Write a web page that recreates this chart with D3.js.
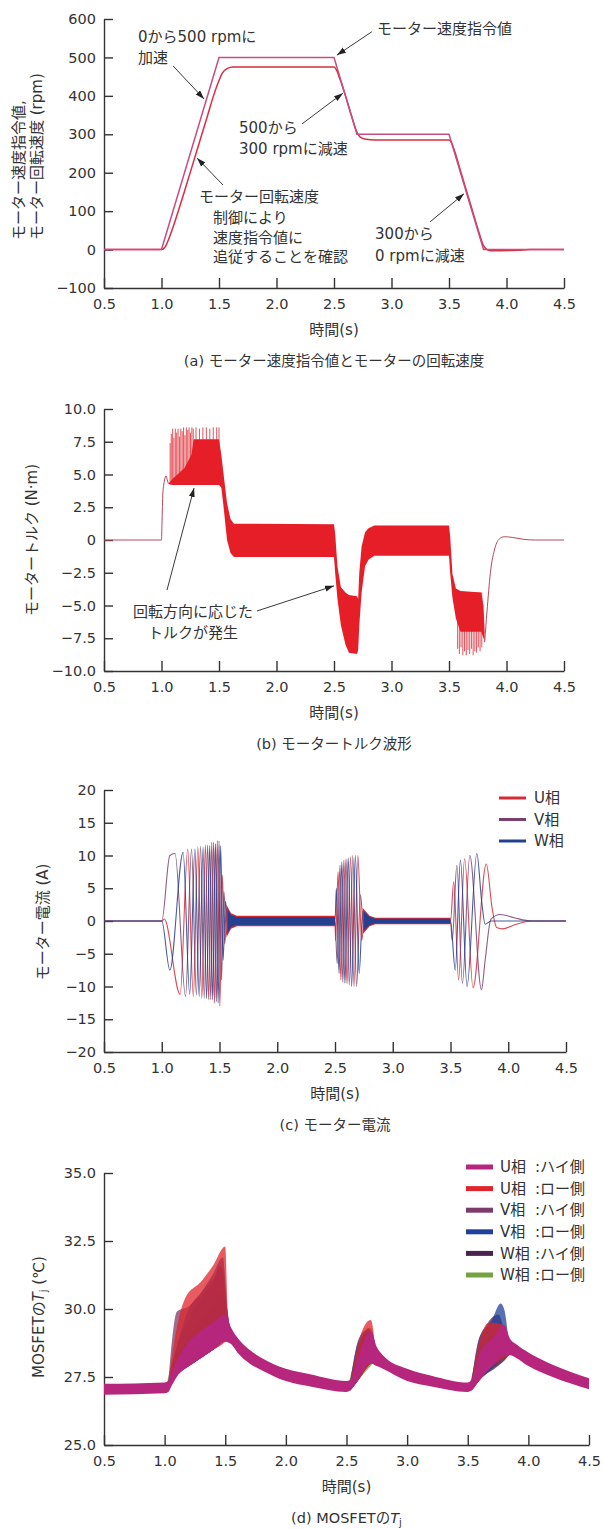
<!DOCTYPE html>
<html>
<head>
<meta charset="utf-8">
<script src="https://cdnjs.cloudflare.com/ajax/libs/d3/7.8.5/d3.min.js"></script>
<style>
  body { margin: 0; background: #fff; }
  text { font-family: "DejaVu Sans", "Noto Sans CJK JP", sans-serif; fill: #333; }
</style>
</head>
<body>
<svg id="chart" width="603" height="1529"></svg>
<script>
// ---------- data ----------
var timeTicks = [0.5, 1.0, 1.5, 2.0, 2.5, 3.0, 3.5, 4.0, 4.5];
var speedTicks = [-100, 0, 100, 200, 300, 400, 500, 600];
var torqueTicks = [-10, -7.5, -5, -2.5, 0, 2.5, 5, 7.5, 10];
var currentTicks = [-20, -15, -10, -5, 0, 5, 10, 15, 20];
var tempTicks = [25, 27.5, 30, 32.5, 35];

// (a) speed command / motor speed [s, rpm]
var speedCmd = [[0.5,0],[1.0,0],[1.5,500],[2.5,500],[2.7,300],[3.5,300],[3.8,0],[4.5,0]];
var speedMotor = [[0.5,0],[1.0,0],[1.03,6],[1.06,25],[1.1,58],[1.2,152],[1.3,250],[1.4,348],[1.45,398],
  [1.5,440],[1.53,460],[1.57,471],[1.62,475],[2.5,475],[2.52,468],[2.55,445],[2.6,400],[2.65,350],
  [2.7,305],[2.73,292],[2.78,287],[2.85,285],[3.5,285],[3.52,279],[3.55,255],[3.6,205],[3.65,155],
  [3.7,105],[3.75,55],[3.8,10],[3.83,0],[3.87,-3],[4.1,-2],[4.2,0],[4.5,0]];

// (b) torque [s, N·m]: smooth parts, dense ripple envelope [s, low, high], single spikes [s, tip]
var torqueStart = [[0.5,0],[1.0,0],[1.004,1.2],[1.012,3.6],[1.025,4.5],[1.04,4.9],[1.05,4.6],[1.06,4.3]];
var torqueEnd = [[3.81,-7.8],[3.83,-5.5],[3.86,-2.5],[3.9,-0.6],[3.94,0.1],[3.98,0.25],[4.05,0.2],
  [4.15,0.05],[4.25,0],[4.5,0]];
var torqueBand = [[1.06,4.3,4.3],[1.1,4.2,4.7],[1.2,4.2,5.5],[1.26,4.2,6.5],[1.28,4.2,7.7],[1.5,4.2,7.7],
  [1.52,4.0,6.5],[1.54,2.5,5.0],[1.57,0.0,2.8],[1.6,-1.0,1.6],[1.63,-1.3,1.25],[2.5,-1.3,1.2],
  [2.51,-2.5,0.5],[2.53,-4.5,-2.0],[2.56,-6.5,-3.6],[2.6,-8.0,-4.0],[2.63,-8.6,-4.2],[2.7,-8.7,-4.3],
  [2.71,-8.4,-4.5],[2.72,-6.5,-2.5],[2.74,-4.0,-0.5],[2.77,-2.0,0.6],[2.8,-1.5,0.9],[2.85,-1.2,1.1],
  [3.5,-1.2,1.1],[3.51,-2.5,0.3],[3.53,-4.4,-2.6],[3.56,-6.0,-3.7],[3.6,-7.0,-3.9],[3.78,-7.0,-4.0],
  [3.8,-7.5,-5.0],[3.81,-7.8,-7.0]];
var torqueSpikeUp = [[1.075,7.4],[1.085,8.1],[1.097,8.5],[1.108,7.8],[1.12,8.5],[1.132,8.2],[1.144,8.5],
  [1.156,7.9],[1.168,8.5],[1.18,8.3],[1.192,8.6],[1.204,8.0],[1.216,8.6],[1.228,8.4],[1.24,8.6],
  [1.252,8.2],[1.264,8.6],[1.276,8.5],[1.3,8.6],[1.33,8.5],[1.36,8.6],[1.39,8.6],[1.42,8.5],[1.45,8.6],
  [1.48,8.6],[1.5,8.6]];
var torqueSpikeDown = [[3.575,-8.3],[3.59,-8.7],[3.605,-8.2],[3.62,-8.8],[3.635,-8.5],[3.65,-8.8],
  [3.665,-8.4],[3.68,-8.7],[3.695,-8.3],[3.71,-8.8],[3.725,-8.5],[3.74,-8.6],[3.755,-8.2],[3.77,-8.5],
  [3.785,-8.2]];

// (c) phase currents: turning points [s, A]
var currentU = [[0.5,0],[1.0,0],[1.022,0.3],[1.159,-11.2],[1.225,11],[1.273,-11.5],[1.3125,11.3],[1.347,-11.8],
  [1.378,11.6],[1.406,-12],[1.433,12],[1.457,-12.5],[1.481,12.3],[1.503,-13],[1.524,7],[1.545,-3.5],
  [1.567,1.5],[1.59,-0.5],[1.6,0],[2.5,0],[2.505,-3],[2.527,7.5],[2.551,-9],[2.577,9.3],[2.604,-9.6],
  [2.634,9.8],[2.665,-10],[2.698,10],[2.731,-3],[2.76,1.2],[2.8,0],[3.5,0],[3.528,6],[3.57,-9],
  [3.622,9.5],[3.695,-10.2],[3.81,8.7],[3.86,2],[3.9,-1],[3.95,-1.2],[4.05,-0.6],[4.2,0],[4.5,0]];
var currentV = [[0.5,0],[1.0,0],[1.07,10],[1.115,10.3],[1.206,-11.5],[1.258,11],[1.3,-11.3],[1.336,11.4],
  [1.368,-11.8],[1.397,11.6],[1.424,-12],[1.449,12],[1.473,-12.3],[1.496,12.2],[1.517,-9],[1.538,4.5],
  [1.56,-2],[1.585,0.8],[1.6,0],[2.5,0],[2.519,-6.5],[2.543,8.5],[2.568,-9.3],[2.595,9.5],[2.624,-9.8],
  [2.654,10],[2.687,-10],[2.72,4],[2.75,-1.5],[2.8,0],[3.5,0],[3.515,-3],[3.555,8.5],[3.603,-9.5],
  [3.667,10],[3.768,-10.5],[3.8,-6],[3.85,0.3],[3.93,1.0],[4.05,0.5],[4.2,0],[4.5,0]];
var currentW = [[0.5,0],[1.0,0],[1.07,-7.5],[1.185,10.5],[1.242,-11.2],[1.287,11],[1.324,-11.5],[1.358,11.3],
  [1.388,-11.8],[1.415,11.5],[1.441,-12],[1.465,11.8],[1.488,-12.5],[1.51,11.5],[1.531,-6],[1.552,3],
  [1.575,-1.2],[1.6,0],[2.5,0],[2.512,5],[2.535,-8],[2.559,9],[2.586,-9.5],[2.614,9.6],[2.644,-10],
  [2.676,10],[2.709,-8],[2.74,1.5],[2.8,0],[3.5,0],[3.541,-7.5],[3.586,9.3],[3.643,-10],[3.728,10.3],
  [3.77,3],[3.8,-0.5],[3.85,0],[4.5,0]];
// ripple while running at constant speed [s, low, high]
var rippleOuter = [[[1.56,-2.5,2.5],[1.6,-1.2,1.2],[1.65,-0.8,0.8],[2.5,-0.8,0.8]],
  [[2.74,-2.0,2.0],[2.8,-0.8,0.8],[2.85,-0.5,0.5],[3.5,-0.5,0.5]]];
var rippleInner = [[[1.57,-1.8,1.8],[1.6,-0.9,0.9],[1.65,-0.6,0.6],[2.5,-0.6,0.6]],
  [[2.75,-1.5,1.5],[2.8,-0.6,0.6],[2.85,-0.35,0.35],[3.5,-0.35,0.35]]];

// (d) MOSFET junction temperatures, envelopes [s, low, high] per active segment
var tjUHigh = [[[0.5,26.85,27.25],[1.0,26.9,27.3],[1.03,26.95,27.35],[1.06,27.2,27.7],[1.1,27.5,28.1],
  [1.2,27.9,28.8],[1.3,28.2,29.2],[1.4,28.5,29.5],[1.5,28.8,29.8],[1.55,28.7,29.3],[1.6,28.4,28.95],
  [1.7,28.0,28.5],[1.8,27.75,28.2],[2.0,27.35,27.8],[2.2,27.15,27.6],[2.5,26.95,27.35],[2.53,27.0,27.4],
  [2.6,27.5,28.3],[2.7,28.0,29.2],[2.75,27.9,28.6],[2.8,27.8,28.3],[3.0,27.35,27.8],[3.2,27.15,27.55],
  [3.5,26.95,27.3],[3.53,27.0,27.4],[3.6,27.4,28.4],[3.7,27.9,28.9],[3.8,28.3,29.4],[3.85,28.3,28.9],
  [3.9,28.2,28.7],[4.0,27.9,28.4],[4.2,27.5,27.95],[4.5,27.05,27.45]]];
var tjULow = [[[1.03,27.2,27.3],[1.1,27.6,29.3],[1.17,27.8,30.4],[1.3,28.2,31.0],[1.4,28.5,31.6],[1.5,28.8,32.3],
  [1.52,28.9,30.0],[1.55,28.8,29.1]],
  [[2.53,27.0,27.3],[2.6,27.4,28.8],[2.7,28.0,29.6],[2.74,28.1,28.5]],
  [[3.53,27.0,27.3],[3.6,27.4,28.9],[3.68,27.8,29.5],[3.8,28.2,29.4],[3.84,28.3,28.7]]];
var tjVHigh = [[[1.03,27.2,27.3],[1.07,27.5,29.2],[1.1,27.6,29.9],[1.2,27.9,30.1],[1.3,28.2,30.6],[1.4,28.5,31.1],
  [1.48,28.8,31.5],[1.52,28.9,29.8],[1.55,28.8,29.1]],
  [[2.53,27.0,27.3],[2.6,27.4,28.8],[2.68,27.9,29.1],[2.73,28.1,28.5]],
  [[3.53,27.0,27.3],[3.6,27.4,29.0],[3.7,27.8,29.4],[3.8,28.1,29.0],[3.84,28.3,28.6]]];
var tjVLow = [[[1.03,27.2,27.3],[1.1,27.6,28.6],[1.2,27.9,30.0],[1.3,28.2,30.6],[1.4,28.5,31.3],[1.48,28.8,31.9],
  [1.52,28.9,29.8],[1.55,28.8,29.1]],
  [[2.53,27.0,27.3],[2.6,27.4,28.9],[2.66,27.9,29.2],[2.72,28.1,28.6]],
  [[3.53,27.0,27.3],[3.6,27.4,29.0],[3.7,27.8,29.6],[3.77,28.1,30.2],[3.8,28.2,30.0],[3.84,28.3,28.7]]];
var tjWHigh = [[[1.03,27.2,27.3],[1.1,27.6,28.6],[1.2,27.9,29.6],[1.3,28.2,30.4],[1.4,28.5,31.0],[1.46,28.7,31.6],
  [1.5,28.9,30.5],[1.54,28.8,29.2]],
  [[2.53,27.0,27.3],[2.6,27.4,28.6],[2.68,27.9,29.3],[2.73,28.1,28.6]],
  [[3.53,27.0,27.3],[3.6,27.4,28.8],[3.75,27.9,29.8],[3.82,28.2,28.8]]];
var tjWLow = [[[1.02,27.2,27.3],[1.06,27.5,28.0],[1.1,27.7,28.4],[1.2,27.9,29.0],[1.3,28.2,29.6],[1.4,28.5,30.2],
  [1.48,28.8,30.6],[1.52,28.9,29.6],[1.56,28.8,29.0]],
  [[2.52,27.0,27.3],[2.6,27.4,28.6],[2.7,27.9,29.3],[2.74,28.1,28.5]],
  [[3.52,27.0,27.3],[3.6,27.4,28.5],[3.7,27.8,28.9],[3.8,28.1,28.6],[3.84,28.3,28.5]]];

var currentLegend = ['U相', 'V相', 'W相'];
var tempLegend = [['U相', ':ハイ側'], ['U相', ':ロー側'], ['V相', ':ハイ側'], ['V相', ':ロー側'], ['W相', ':ハイ側'], ['W相', ':ロー側']];

// ---------- drawing ----------
var svg = d3.select('#chart');
var left = 104;

svg.append('defs').append('marker')
  .attr('id', 'head')
  .attr('markerUnits', 'userSpaceOnUse')
  .attr('markerWidth', 10).attr('markerHeight', 8)
  .attr('refX', 9).attr('refY', 3)
  .attr('orient', 'auto')
  .append('path').attr('d', 'M0,0 L9,3 L0,6 Z').attr('fill', '#222');

function minus(v, s){ return v < 0 ? '\u2212' + s : s; }

function panel(top, bottom, right, domain, ticks, fmt){
  var g = svg.append('g');
  var x = d3.scaleLinear().domain([0.5, 4.5]).range([left, right]);
  var y = d3.scaleLinear().domain(domain).range([bottom, top]);

  var ya = g.append('g').attr('transform', 'translate(' + left + ',0)')
    .call(d3.axisLeft(y).tickValues(ticks).tickFormat(fmt).tickSizeInner(-9).tickSizeOuter(0).tickPadding(8));
  var xa = g.append('g').attr('transform', 'translate(0,' + bottom + ')')
    .call(d3.axisBottom(x).tickValues(timeTicks).tickFormat(function(d){ return d.toFixed(1); })
      .tickSizeInner(-10).tickSizeOuter(0).tickPadding(11));
  [ya, xa].forEach(function(a){
    a.selectAll('path, line').attr('stroke', '#333').attr('stroke-width', 1.4);
    a.selectAll('text').style('font-family', '"DejaVu Sans", sans-serif').style('font-size', '14.5px').attr('fill', '#3a3a3a');
  });

  g.append('text').attr('x', (left + right) / 2).attr('y', bottom + 42)
    .attr('text-anchor', 'middle').attr('dy', '0.35em').style('font-size', '15px').text('時間(s)');
  return {g: g, x: x, y: y, bottom: bottom, right: right};
}

function note(p, t, v, str, anchor){
  p.g.append('text').attr('x', p.x(t)).attr('y', p.y(v)).attr('dy', '0.35em')
    .attr('text-anchor', anchor || 'start').style('font-size', '15px').text(str);
}
function arrow(p, t1, v1, t2, v2){
  p.g.append('line').attr('x1', p.x(t1)).attr('y1', p.y(v1)).attr('x2', p.x(t2)).attr('y2', p.y(v2))
    .attr('stroke', '#222').attr('stroke-width', 0.9).attr('marker-end', 'url(#head)');
}
function caption(p){
  return p.g.append('text').attr('x', (left + p.right) / 2).attr('y', p.bottom + 73)
    .attr('text-anchor', 'middle').attr('dy', '0.35em').style('font-size', '14.5px');
}

// (a)
var pa = panel(19, 288, 564, [-100, 600], speedTicks, function(d){ return minus(d, Math.abs(d)); });
var lineA = d3.line().x(function(d){ return pa.x(d[0]); }).y(function(d){ return pa.y(d[1]); });
pa.g.append('path').datum(speedMotor).attr('d', lineA.curve(d3.curveMonotoneX))
  .attr('fill', 'none').attr('stroke', '#d92d42').attr('stroke-width', 1.5);
pa.g.append('path').datum(speedCmd).attr('d', lineA.curve(d3.curveLinear))
  .attr('fill', 'none').attr('stroke', '#c64d7f').attr('stroke-width', 1.5);

note(pa, 0.796, 553, '0から500 rpmに');
note(pa, 0.796, 498, '加速');
arrow(pa, 1.1, 478, 1.37, 392);
note(pa, 2.874, 574, 'モーター速度指令値');
arrow(pa, 2.83, 567, 2.526, 506);
note(pa, 1.674, 316, '500から');
note(pa, 1.674, 262, '300 rpmに減速');
arrow(pa, 2.222, 327, 2.578, 407);
note(pa, 1.326, 137, 'モーター回転速度');
arrow(pa, 1.535, 168, 1.309, 238);
note(pa, 1.448, 82, '制御により');
note(pa, 1.448, 30, '速度指令値に');
note(pa, 1.448, -19, '追従することを確認');
note(pa, 2.857, 41, '300から');
note(pa, 2.857, -17, '0 rpmに減速');
arrow(pa, 3.335, 72, 3.63, 145);

pa.g.append('text').attr('transform', 'translate(19,240) rotate(-90)').attr('dy', '0.35em')
  .style('font-size', '15px').text('モーター速度指令値,');
pa.g.append('text').attr('transform', 'translate(37,240) rotate(-90)').attr('dy', '0.35em')
  .style('font-size', '15px').text('モーター回転速度 (rpm)');
caption(pa).text('(a) モーター速度指令値とモーターの回転速度');

// (b)
var pb = panel(409, 671, 564, [-10, 10], torqueTicks, function(d){
  return d === 0 ? '0' : minus(d, Math.abs(d).toFixed(1));
});
var bandB = d3.area().x(function(d){ return pb.x(d[0]); })
  .y0(function(d){ return pb.y(d[1]); }).y1(function(d){ return pb.y(d[2]); });
var lineB = d3.line().x(function(d){ return pb.x(d[0]); }).y(function(d){ return pb.y(d[1]); })
  .curve(d3.curveMonotoneX);
pb.g.selectAll('.spikeUp').data(torqueSpikeUp).join('line').attr('class', 'spikeUp')
  .attr('x1', function(d){ return pb.x(d[0]); }).attr('x2', function(d){ return pb.x(d[0]); })
  .attr('y1', pb.y(4.2)).attr('y2', function(d){ return pb.y(d[1]); })
  .attr('stroke', '#e0404a').attr('stroke-width', 0.9);
pb.g.selectAll('.spikeDown').data(torqueSpikeDown).join('line').attr('class', 'spikeDown')
  .attr('x1', function(d){ return pb.x(d[0]); }).attr('x2', function(d){ return pb.x(d[0]); })
  .attr('y1', pb.y(-4.0)).attr('y2', function(d){ return pb.y(d[1]); })
  .attr('stroke', '#e0404a').attr('stroke-width', 0.9);
pb.g.append('path').datum(torqueBand).attr('d', bandB).attr('fill', '#e61e28');
[torqueStart, torqueEnd].forEach(function(s){
  pb.g.append('path').datum(s).attr('d', lineB).attr('fill', 'none')
    .attr('stroke', '#b8485a').attr('stroke-width', 1);
});
note(pb, 1.274, -5.5, '回転方向に応じた', 'middle');
note(pb, 1.274, -7.06, 'トルクが発生', 'middle');
arrow(pb, 1.048, -3.82, 1.283, 3.97);
arrow(pb, 1.83, -5.42, 2.5, -3.5);
pb.g.append('text').attr('transform', 'translate(32,540) rotate(-90)').attr('dy', '0.35em')
  .attr('text-anchor', 'middle').style('font-size', '15px').text('モータートルク (N·m)');
caption(pb).text('(b) モータートルク波形');

// (c)
var pc = panel(790, 1052, 566, [-20, 20], currentTicks, function(d){ return minus(d, Math.abs(d)); });
var lineC = d3.line().x(function(d){ return pc.x(d[0]); }).y(function(d){ return pc.y(d[1]); })
  .curve(d3.curveMonotoneX);
var bandC = d3.area().x(function(d){ return pc.x(d[0]); })
  .y0(function(d){ return pc.y(d[1]); }).y1(function(d){ return pc.y(d[2]); });
var phaseColors = ['#d42a36', '#7a3f6c', '#24408f'];
[currentU, currentV, currentW].forEach(function(s, i){
  pc.g.append('path').datum(s).attr('d', lineC).attr('fill', 'none')
    .attr('stroke', phaseColors[i]).attr('stroke-width', 1.1).attr('opacity', 0.85);
});
rippleOuter.forEach(function(s){ pc.g.append('path').datum(s).attr('d', bandC).attr('fill', '#d42a36'); });
rippleInner.forEach(function(s){ pc.g.append('path').datum(s).attr('d', bandC).attr('fill', '#24408f'); });
currentLegend.forEach(function(name, i){
  var yy = 798 + i * 21.5;
  pc.g.append('line').attr('x1', 499).attr('x2', 526).attr('y1', yy).attr('y2', yy)
    .attr('stroke', phaseColors[i]).attr('stroke-width', 3);
  pc.g.append('text').attr('x', 534).attr('y', yy).attr('dy', '0.35em').style('font-size', '15px').text(name);
});
pc.g.append('text').attr('transform', 'translate(43,922) rotate(-90)').attr('dy', '0.35em')
  .attr('text-anchor', 'middle').style('font-size', '15px').text('モーター電流 (A)');
caption(pc).text('(c) モーター電流');

// (d)
var pd = panel(1173, 1445, 589, [25, 35], tempTicks, function(d){ return d.toFixed(1); });
var bandD = d3.area().x(function(d){ return pd.x(d[0]); })
  .y0(function(d){ return pd.y(d[1]); }).y1(function(d){ return pd.y(d[2]); })
  .curve(d3.curveMonotoneX);
var tempSeries = [tjWLow, tjWHigh, tjVHigh, tjVLow, tjULow, tjUHigh];
var tempColors = ['#74a33f', '#4a2350', '#7c3b69', '#21409a', '#e0262c', '#b5267c'];
tempSeries.forEach(function(series, i){
  series.forEach(function(seg){
    pd.g.append('path').datum(seg).attr('d', bandD).attr('fill', tempColors[i])
      .attr('opacity', i === 5 ? 1 : 0.75);
  });
});
var legendColors = ['#b5267c', '#e0262c', '#7c3b69', '#21409a', '#4a2350', '#74a33f'];
tempLegend.forEach(function(row, i){
  var yy = 1167 + i * 21.6;
  pd.g.append('line').attr('x1', 466).attr('x2', 493).attr('y1', yy).attr('y2', yy)
    .attr('stroke', legendColors[i]).attr('stroke-width', 5);
  pd.g.append('text').attr('x', 500).attr('y', yy).attr('dy', '0.35em').style('font-size', '15px').text(row[0]);
  pd.g.append('text').attr('x', 535).attr('y', yy).attr('dy', '0.35em').style('font-size', '15px').text(row[1]);
});
var ytD = pd.g.append('text').attr('transform', 'translate(39,1317) rotate(-90)').attr('dy', '0.35em')
  .attr('text-anchor', 'middle').style('font-size', '15px');
ytD.append('tspan').text('MOSFETの');
ytD.append('tspan').style('font-style', 'italic').text('T');
ytD.append('tspan').attr('dy', '3').style('font-size', '10px').text('j');
ytD.append('tspan').attr('dy', '-3').text(' (℃)');
var capD = caption(pd);
capD.append('tspan').text('(d) MOSFETの');
capD.append('tspan').style('font-style', 'italic').text('T');
capD.append('tspan').attr('dy', '3').style('font-size', '10px').text('j');
</script>
</body>
</html>
